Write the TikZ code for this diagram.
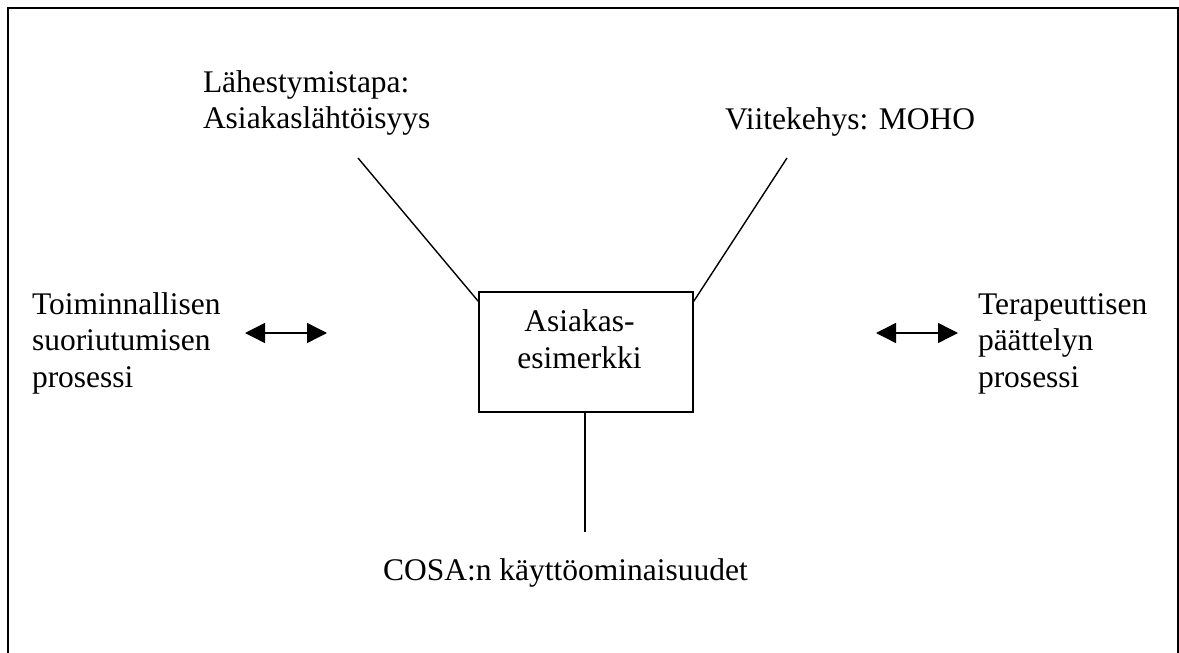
\documentclass[tikz,border=0pt]{standalone}
\usepackage{fontspec}
\setmainfont{Liberation Serif}
\usetikzlibrary{arrows.meta,calc}
\begin{document}
\begin{tikzpicture}[x=1pt,y=-1pt,
  lbl/.style={inner sep=0pt, outer sep=0pt, align=left, anchor=base west,
    font=\fontsize{31.5}{36.5}\selectfont},
  ctr/.style={inner sep=0pt, outer sep=0pt, align=center, anchor=base,
    font=\fontsize{31.5}{36.5}\selectfont},
  conn/.style={line width=1.4pt},
  arr/.style={line width=1.4pt, {Triangle[length=20pt,width=20pt]}-{Triangle[length=20pt,width=20pt]}},
  boxst/.style={draw, line width=1.5pt, minimum width=214pt, minimum height=120pt, inner sep=0pt}
]
\useasboundingbox (0,0) rectangle (1179,653);
% frame (open at the bottom)
\draw[line width=2pt] (8,670) -- (8,7.5) -- (1178,7.5) -- (1178,670);

% labels (base anchor = baseline of the last line)
\node[lbl] (lah) at (203,128.5) {Lähestymistapa:\\Asiakaslähtöisyys};
\node[lbl] (vii) at (725,129) {Viitekehys: MOHO};
\node[lbl] (toi) at (32,387) {Toiminnallisen\\suoriutumisen\\prosessi};
\node[lbl] (ter) at (978,387) {Terapeuttisen\\päättelyn\\prosessi};
\node[lbl] (cosa) at (383,580) {COSA:n käyttöominaisuudet};

% central box
\node[boxst] (box) at (586,352) {};
\node[ctr] (boxtext) at (579.5,368) {Asiakas-\\esimerkki};

% connectors
\coordinate (lq) at (358,158);
\coordinate (rq) at (787,158);
\coordinate (bq) at (585,532);
\draw[conn] (lq) -- ($(box.north west)+(0,10)$);
\draw[conn] (rq) -- ($(box.north east)+(0,10)$);
\draw[conn] (box.south -| bq) -- (bq);

% double arrows
\coordinate (la1) at (245,333);
\coordinate (la2) at (327,333);
\coordinate (ra1) at (876,333);
\coordinate (ra2) at (958,333);
\draw[arr] (la1) -- (la2);
\draw[arr] (ra1) -- (ra2);
\end{tikzpicture}
\end{document}
